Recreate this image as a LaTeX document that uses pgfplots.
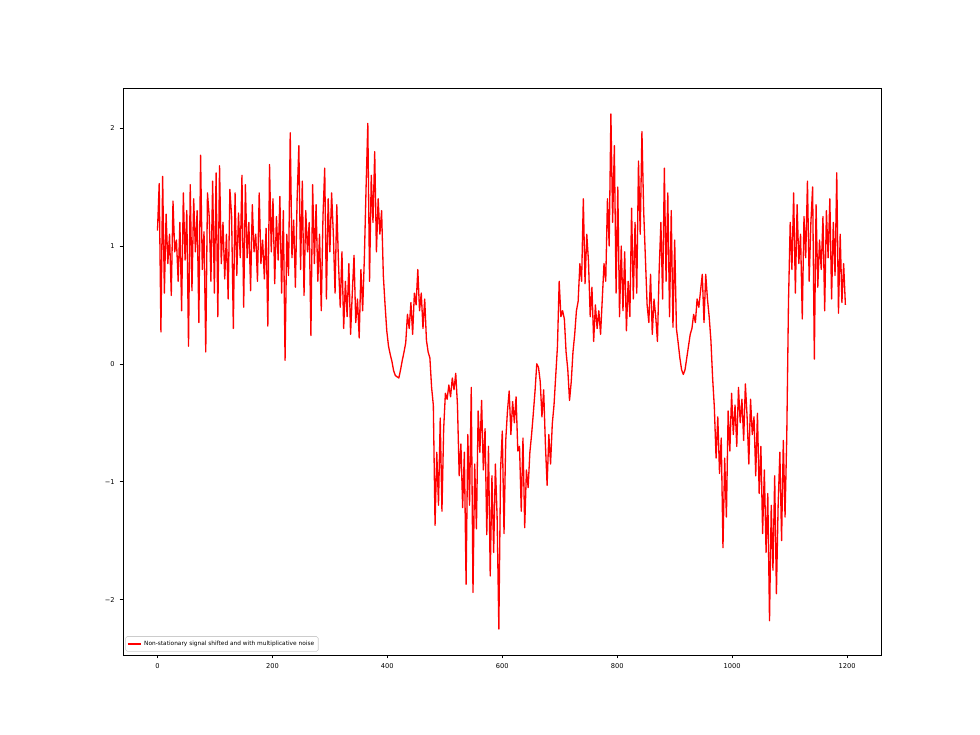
\documentclass[border=0pt]{standalone}
\usepackage{fontspec}
\setmainfont{DejaVu Sans}
\usepackage{pgfplots}
\usepackage{pgfplotstable}
\pgfplotsset{compat=1.18}

% one sample every 3 steps, x = 3*row
\pgfplotstableread[row sep=\\]{
y\\
1.13\\ 1.53\\ 0.27\\ 1.59\\ 0.60\\ 1.27\\ 0.85\\ 1.10\\ 0.58\\ 1.38\\
0.95\\ 1.05\\ 0.70\\ 1.20\\ 0.45\\ 1.45\\ 0.88\\ 1.30\\ 0.15\\ 1.52\\
0.62\\ 1.40\\ 0.95\\ 1.30\\ 0.35\\ 1.77\\ 0.80\\ 1.12\\ 0.10\\ 1.45\\
1.25\\ 0.70\\ 1.55\\ 0.60\\ 1.62\\ 0.40\\ 1.68\\ 0.85\\ 1.20\\ 0.72\\
1.10\\ 0.55\\ 1.48\\ 1.25\\ 0.30\\ 1.45\\ 0.75\\ 1.28\\ 0.90\\ 1.60\\
0.48\\ 1.52\\ 0.90\\ 1.20\\ 0.62\\ 1.35\\ 0.95\\ 1.10\\ 0.70\\ 1.45\\
0.85\\ 1.05\\ 0.72\\ 1.15\\ 0.32\\ 1.69\\ 0.95\\ 1.40\\ 0.68\\ 1.25\\
0.88\\ 1.42\\ 0.60\\ 1.30\\ 0.03\\ 1.10\\ 0.75\\ 1.96\\ 0.90\\ 1.22\\
0.65\\ 1.40\\ 1.85\\ 0.80\\ 1.55\\ 0.58\\ 1.30\\ 0.95\\ 1.20\\ 0.24\\
1.52\\ 0.85\\ 1.35\\ 0.70\\ 1.10\\ 0.45\\ 1.25\\ 1.66\\ 0.55\\ 1.40\\
0.95\\ 1.45\\ 1.10\\ 0.60\\ 1.35\\ 0.85\\ 0.48\\ 0.95\\ 0.30\\ 0.70\\
0.40\\ 0.85\\ 0.25\\ 0.60\\ 0.92\\ 0.35\\ 0.55\\ 0.22\\ 0.80\\ 0.45\\
0.90\\ 1.50\\ 2.04\\ 0.70\\ 1.60\\ 1.20\\ 1.80\\ 0.95\\ 1.40\\ 1.10\\
1.30\\ 0.75\\ 0.50\\ 0.28\\ 0.15\\ 0.08\\ 0.02\\ -0.06\\ -0.10\\ -0.11\\
-0.12\\ -0.05\\ 0.03\\ 0.10\\ 0.18\\ 0.42\\ 0.30\\ 0.52\\ 0.25\\ 0.60\\
0.50\\ 0.80\\ 0.45\\ 0.60\\ 0.30\\ 0.55\\ 0.20\\ 0.10\\ 0.05\\ -0.20\\
-0.35\\ -1.37\\ -0.75\\ -1.20\\ -0.46\\ -1.25\\ -0.55\\ -0.25\\ -0.30\\ -0.18\\
-0.28\\ -0.12\\ -0.22\\ -0.08\\ -0.35\\ -0.95\\ -0.68\\ -1.22\\ -0.75\\ -1.87\\
-0.60\\ -1.20\\ -0.20\\ -1.94\\ -0.85\\ -1.40\\ -0.40\\ -0.75\\ -0.31\\ -0.90\\
-0.55\\ -1.45\\ -0.70\\ -1.80\\ -0.95\\ -1.60\\ -0.85\\ -1.30\\ -2.25\\ -0.90\\
-0.57\\ -1.44\\ -0.65\\ -0.40\\ -0.23\\ -0.60\\ -0.32\\ -0.50\\ -0.28\\ -0.74\\
-0.70\\ -1.25\\ -0.63\\ -1.39\\ -0.90\\ -1.05\\ -0.75\\ -0.60\\ -0.42\\ -0.23\\
0.00\\ -0.03\\ -0.15\\ -0.45\\ -0.22\\ -0.68\\ -1.03\\ -0.60\\ -0.85\\ -0.51\\
-0.35\\ -0.10\\ 0.15\\ 0.70\\ 0.40\\ 0.45\\ 0.38\\ 0.10\\ -0.05\\ -0.31\\
-0.15\\ 0.10\\ 0.25\\ 0.45\\ 0.53\\ 0.85\\ 0.70\\ 1.40\\ 0.68\\ 1.10\\
0.87\\ 0.40\\ 0.65\\ 0.19\\ 0.50\\ 0.30\\ 0.45\\ 0.25\\ 0.55\\ 0.85\\
0.70\\ 1.40\\ 1.00\\ 2.12\\ 1.20\\ 1.85\\ 0.60\\ 1.50\\ 0.40\\ 1.00\\
0.45\\ 0.95\\ 0.28\\ 0.70\\ 0.40\\ 1.32\\ 0.55\\ 1.20\\ 0.60\\ 1.72\\
1.10\\ 1.97\\ 1.30\\ 0.90\\ 0.50\\ 0.35\\ 0.76\\ 0.25\\ 0.55\\ 0.40\\
0.19\\ 0.80\\ 1.20\\ 0.55\\ 1.66\\ 0.70\\ 1.45\\ 0.40\\ 1.30\\ 0.31\\
1.05\\ 0.30\\ 0.18\\ 0.05\\ -0.05\\ -0.09\\ -0.05\\ 0.05\\ 0.15\\ 0.25\\
0.30\\ 0.42\\ 0.35\\ 0.55\\ 0.48\\ 0.62\\ 0.76\\ 0.35\\ 0.76\\ 0.55\\
0.40\\ 0.20\\ -0.12\\ -0.37\\ -0.80\\ -0.45\\ -0.93\\ -0.63\\ -1.56\\ -0.80\\
-1.30\\ -0.40\\ -0.74\\ -0.25\\ -0.60\\ -0.35\\ -0.70\\ -0.20\\ -0.50\\ -0.30\\
-0.65\\ -0.17\\ -0.45\\ -0.85\\ -0.30\\ -0.60\\ -0.45\\ -0.95\\ -0.42\\ -1.10\\
-0.70\\ -1.44\\ -0.90\\ -1.60\\ -1.10\\ -2.18\\ -1.20\\ -1.75\\ -0.95\\ -1.95\\
-1.20\\ -0.75\\ -1.50\\ -0.65\\ -1.30\\ -0.62\\ 0.52\\ 1.20\\ 0.80\\ 1.45\\
0.60\\ 1.35\\ 0.85\\ 1.10\\ 0.38\\ 1.25\\ 0.90\\ 1.55\\ 0.70\\ 1.20\\
1.50\\ 0.04\\ 1.35\\ 0.65\\ 1.05\\ 0.80\\ 1.25\\ 0.45\\ 1.30\\ 0.90\\
1.40\\ 0.55\\ 1.20\\ 0.75\\ 1.62\\ 0.43\\ 1.10\\ 0.52\\ 0.85\\ 0.50\\
}\signal

\begin{document}
\begin{tikzpicture}
\useasboundingbox (0,0) rectangle (705.6bp,529.2bp);
\begin{axis}[
    at={(88.56bp,57.6bp)}, anchor=south west,
    scale only axis,
    width=545.76bp, height=408.24bp,
    xmin=-60, xmax=1259,
    ymin=-2.47, ymax=2.34,
    xtick={0,200,400,600,800,1000,1200},
    xticklabels={0,200,400,600,800,1000,1200},
    ytick={-2,-1,0,1,2},
    yticklabels={−2,−1,0,1,2},
    tick pos=left,
    tick align=outside,
    major tick length=2.5bp,
    tick style={black, line width=0.4bp},
    axis line style={line width=0.5bp},
    ticklabel style={font=\fontsize{4.8bp}{5bp}\selectfont},
    legend style={
        at={(0.003,0.006)}, anchor=south west,
        font=\fontsize{4.2bp}{5bp}\selectfont,
        draw=black!20, rounded corners=1.2bp,
        inner sep=1bp, line width=0.4bp,
    },
    legend cell align=left,
    legend image code/.code={
        \draw[red, line width=0.9bp] (0bp,0bp) -- (9.5bp,0bp);
    },
]
\addplot[red, line width=0.95bp, line join=round]
    table[x expr=\coordindex*3, y=y] {\signal};
\addlegendentry{Non-stationary signal shifted and with multiplicative noise}
\end{axis}
\end{tikzpicture}
\end{document}
